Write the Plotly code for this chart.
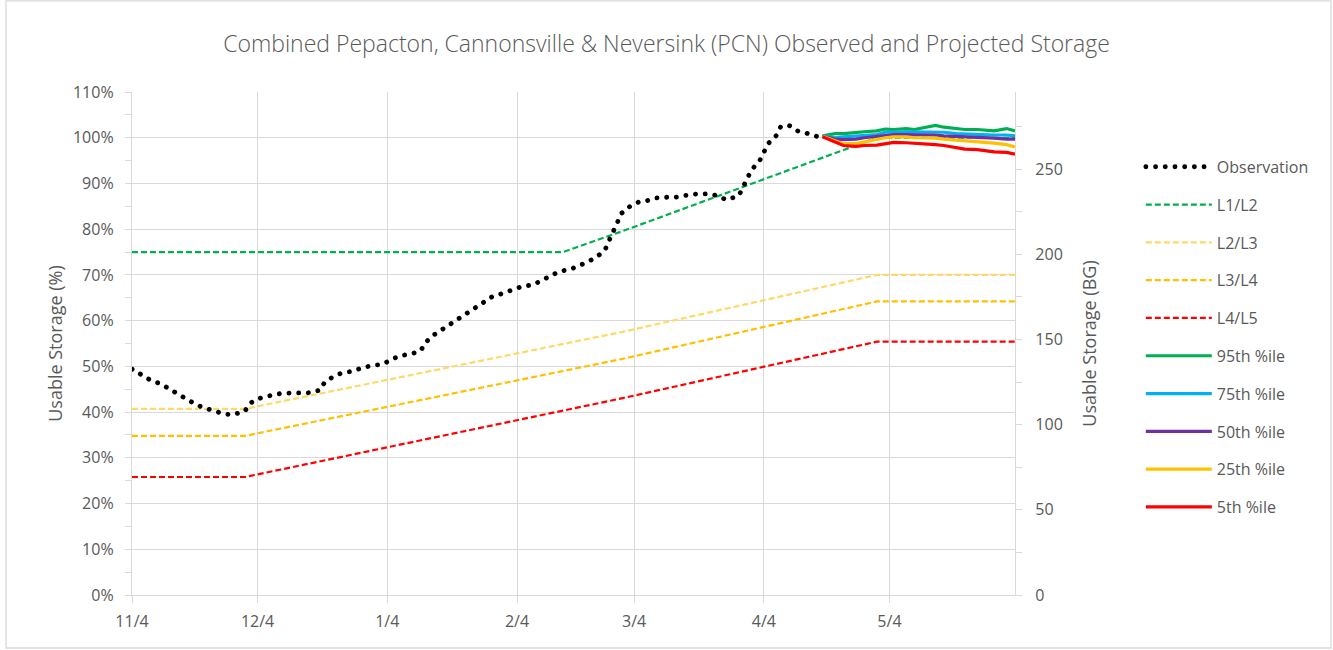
import pandas as pd
import plotly.graph_objects as go

START = pd.Timestamp("2024-11-04")
END_DAY = 211

# ---------------- data (percent of usable capacity) ----------------
obs_day = [0, 2, 4, 7, 9, 11, 13, 15, 17, 20, 22, 24, 27, 28, 30, 33, 35, 38, 40, 42,
           45, 46, 48, 50, 53, 55, 57, 60, 62, 64, 67, 69, 70, 72, 74, 76, 78, 80, 82, 84,
           86, 89, 91, 93, 96, 98, 100, 102, 105, 107, 109, 111, 113, 114, 115, 116, 117,
           119, 121, 123, 125, 128, 130, 133, 135, 138, 140, 142, 145, 146, 147, 148, 150,
           151, 152, 154, 155, 157, 159, 162, 164, 165]
obs_pct = [49.4, 48.3, 47.2, 46.1, 45.0, 43.8, 42.7, 41.8, 41.0, 40.2, 39.6, 39.4, 40.2, 41.8,
           42.9, 43.6, 44.0, 44.2, 44.2, 44.2, 44.8, 46.5, 47.7, 48.5, 49.0, 49.7, 50.1, 50.5,
           51.5, 52.3, 52.8, 53.4, 55.1, 56.8, 58.0, 59.2, 60.5, 61.7, 63.0, 64.1, 65.2, 66.1,
           66.8, 67.4, 67.9, 68.9, 69.8, 70.7, 71.3, 72.0, 72.9, 73.9, 75.4, 77.5, 79.6, 81.6,
           83.5, 85.0, 85.9, 86.2, 86.8, 87.0, 87.0, 87.5, 87.7, 87.7, 87.3, 86.4, 87.3, 89.2,
           91.1, 92.9, 95.0, 96.7, 98.7, 100.5, 102.4, 102.7, 101.5, 100.8, 100.2, 100.3]

rule_dates = ["2024-11-04", "2024-12-01", "2025-02-15", "2025-03-01", "2025-04-01",
              "2025-05-01", "2025-06-03"]
l1_l2 = [75.0, 75.0, 75.0, 79.5, 90.0, 100.0, 100.0]
l2_l3 = [40.7, 40.7, None, 57.5, None, 70.0, 70.0]
l3_l4 = [34.8, 34.8, None, 51.6, None, 64.2, 64.2]
l4_l5 = [25.8, 25.8, None, 43.0, None, 55.4, 55.4]

proj_day = [165, 168, 170, 173, 175, 178, 180, 182, 185, 187, 190, 192, 194, 197, 199,
            202, 204, 206, 209, 211]
p95 = [100.4, 100.9, 100.9, 101.2, 101.3, 101.5, 101.9, 101.8, 102.0, 101.8, 102.3, 102.7,
       102.3, 101.9, 101.8, 101.8, 101.6, 101.5, 102.0, 101.5]
p75 = [100.4, 100.0, 100.2, 100.4, 100.6, 100.7, 101.2, 101.3, 101.3, 101.3, 101.3, 101.3,
       101.2, 100.9, 100.8, 100.7, 100.6, 100.6, 100.6, 100.4]
p50 = [100.3, 99.7, 99.6, 99.7, 100.0, 100.3, 100.6, 100.7, 100.7, 100.7, 100.6, 100.6,
       100.4, 100.3, 100.2, 100.0, 100.0, 99.9, 99.7, 99.7]
p25 = [100.3, 99.3, 98.7, 98.7, 99.1, 99.6, 100.0, 100.2, 100.2, 100.0, 100.0, 99.9, 99.7,
       99.5, 99.3, 99.1, 98.9, 98.8, 98.5, 98.0]
p05 = [100.2, 99.0, 98.3, 98.1, 98.3, 98.4, 98.7, 99.0, 98.9, 98.8, 98.7, 98.5, 98.3, 97.8,
       97.5, 97.4, 97.2, 96.9, 96.8, 96.4]

tick_dates = ["2024-11-04", "2024-12-04", "2025-01-04", "2025-02-04", "2025-03-04",
              "2025-04-04", "2025-05-04"]
tick_text = ["11/4", "12/4", "1/4", "2/4", "3/4", "4/4", "5/4"]
bg_max = 295.2  # right axis max (BG) matching 110 %

# ---------------- helpers ----------------
def to_dates(days):
    return [START + pd.Timedelta(days=d) for d in days]

def keep(dates, vals):
    pairs = [(d, v) for d, v in zip(dates, vals) if v is not None]
    return [p[0] for p in pairs], [p[1] for p in pairs]

TXT = "#595959"
GRID = "#D9D9D9"
FONT = "Open Sans"

fig = go.Figure()

rules = [("L1/L2", l1_l2, "#00B050", 2),
         ("L2/L3", l2_l3, "#FFD966", 3),
         ("L3/L4", l3_l4, "#FFC000", 4),
         ("L4/L5", l4_l5, "#FF0000", 5)]
for name, vals, col, rank in rules:
    xd, yv = keep(rule_dates, vals)
    fig.add_trace(go.Scatter(x=xd, y=yv, mode="lines", name=name, legendrank=rank,
                             legendgroup=name,
                             line=dict(color=col, width=2.2, dash="6px,3px")))

projs = [("95th %ile", p95, "#00B050", 6),
         ("75th %ile", p75, "#00B0F0", 7),
         ("50th %ile", p50, "#7030A0", 8),
         ("25th %ile", p25, "#FFC000", 9),
         ("5th %ile", p05, "#FF0000", 10)]
pdates = to_dates(proj_day)
for name, vals, col, rank in projs:
    fig.add_trace(go.Scatter(x=pdates, y=vals, mode="lines", name=name, legendrank=rank,
                             legendgroup=name,
                             line=dict(color=col, width=3.2)))

fig.add_trace(go.Scatter(x=to_dates(obs_day), y=obs_pct, mode="lines", name="Observation",
                         legendrank=1, legendgroup="Observation",
                         line=dict(color="#000000", width=4.8, dash="4px,5.5px")))

# invisible trace to activate right axis
fig.add_trace(go.Scatter(x=[START], y=[0], yaxis="y2", mode="markers",
                         marker=dict(opacity=0), showlegend=False, hoverinfo="skip"))

fig.update_layout(
    width=1333, height=650,
    margin=dict(l=132, r=318, t=92, b=55),
    paper_bgcolor="white", plot_bgcolor="white",
    font=dict(family=FONT, color=TXT, size=16),
    title=dict(text="Combined Pepacton, Cannonsville & Neversink (PCN) Observed and Projected Storage",
               x=0.5, xref="container", y=0.932, yanchor="middle",
               font=dict(family=FONT, size=23, color=TXT, weight=300)),
    xaxis=dict(type="date", range=[START, START + pd.Timedelta(days=END_DAY)],
               tickvals=tick_dates, ticktext=tick_text, showgrid=True, gridcolor=GRID,
               gridwidth=1.3, showline=True, linecolor=GRID, linewidth=1.3,
               ticks="outside", ticklen=7, tickcolor=GRID, zeroline=False,
               ticklabelstandoff=5,
               tickfont=dict(size=16, color=TXT)),
    yaxis=dict(range=[0, 110], dtick=10, ticksuffix="%", showgrid=True, gridcolor=GRID,
               gridwidth=1.3, showline=True, linecolor=GRID, linewidth=1.3,
               ticks="outside", ticklen=6, tickcolor=GRID, zeroline=False,
               ticklabelstandoff=8,
               minor=dict(dtick=5, ticks="outside", ticklen=6, tickcolor=GRID, showgrid=False),
               tickfont=dict(size=16, color=TXT),
               title=dict(text="Usable Storage (%)", font=dict(size=18, color=TXT), standoff=5)),
    yaxis2=dict(range=[0, bg_max], dtick=50, overlaying="y", side="right", showgrid=False,
                showline=True, linecolor=GRID, linewidth=1.3, ticks="outside", ticklen=6,
                tickcolor=GRID, zeroline=False, ticklabelstandoff=10,
                minor=dict(dtick=25, ticks="outside", ticklen=6, tickcolor=GRID),
                tickfont=dict(size=16, color=TXT),
                title=dict(text="Usable Storage (BG)", font=dict(size=18, color=TXT), standoff=21)),
    legend=dict(x=1.1425, xanchor="left", y=0.885, yanchor="top", traceorder="grouped",
                tracegroupgap=14, itemwidth=66, font=dict(size=16, color=TXT),
                bgcolor="rgba(0,0,0,0)"),
    showlegend=True,
    shapes=[dict(type="rect", xref="paper", yref="paper", x0=-0.1427, x1=1.3579,
                 y0=-0.1054, y1=1.181, line=dict(color=GRID, width=1.3), layer="below")],
)

post = """
document.body.style.margin = '0';
var gd = document.getElementById('{plot_id}');
function roundDots(){
  gd.querySelectorAll('path.js-line').forEach(function(p){
    var s = (p.style.stroke || p.getAttribute('stroke') || '').replace(/\\s/g,'');
    if (s === 'rgb(0,0,0)' || s === '#000000') {
      p.style.strokeLinecap = 'round';
      p.style.strokeDasharray = '0.1px,9.6px';
    }
  });
}
roundDots();
gd.on('plotly_afterplot', roundDots);
"""

fig.write_html("out.html", post_script=post, config={"displayModeBar": False})
